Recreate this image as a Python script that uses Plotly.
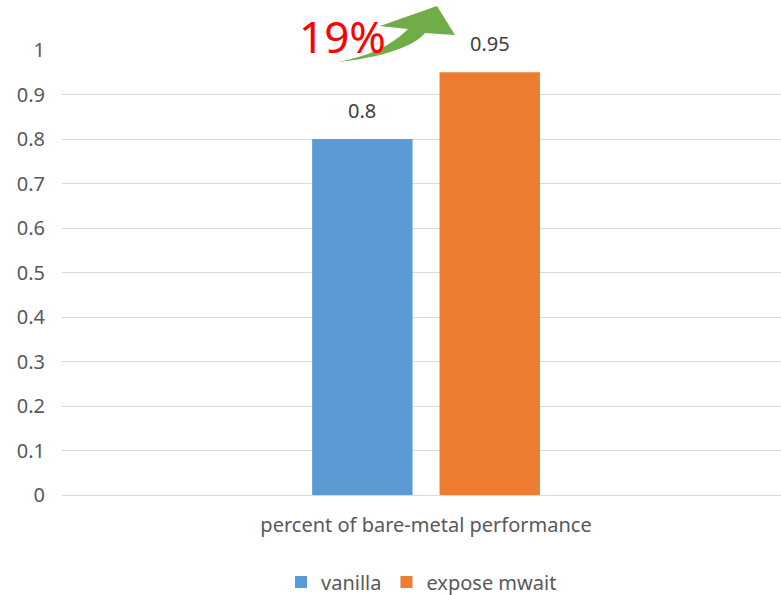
import plotly.graph_objects as go

# chart data
categories = ["percent of bare-metal performance"]
series_names = ["vanilla", "expose mwait"]
series_values = [[0.8], [0.95]]
series_colors = ["#5B9BD5", "#ED7D31"]
y_ticks = [0, 0.1, 0.2, 0.3, 0.4, 0.5, 0.6, 0.7, 0.8, 0.9, 1]
gain_label = "19%"

W, H = 781, 595
ML, MR, MT, MB = 62, 0, 50, 100
PW, PH = W - ML - MR, H - MT - MB

FONT = "Noto Sans"


def px_to_paper(px, py):
    return (px - ML) / PW, 1 - (py - MT) / PH


fig = go.Figure()
for name, vals, col in zip(series_names, series_values, series_colors):
    fig.add_trace(go.Bar(
        name=name, x=categories, y=vals, marker=dict(color=col, line=dict(width=0)),
        hoverinfo="skip",
    ))

# value labels above each bar
bargap, groupgap = 0.65, 0.212
x_range = [-0.5, 0.4875]
unit_px = PW / (x_range[1] - x_range[0])
slot_px = (1 - bargap) * unit_px / len(series_names)
annotations = []
for i, vals in enumerate(series_values):
    off = (i - (len(series_names) - 1) / 2) * slot_px
    for c, v in zip(categories, vals):
        annotations.append(dict(
            x=c, y=v, xref="x", yref="y", text=f"{v:g}", showarrow=False,
            xshift=off, yshift=29, yanchor="middle",
            font=dict(family=FONT, size=20, color="#404040"),
        ))

# increase label
gx, gy = px_to_paper(342, 36)
annotations.append(dict(
    x=gx, y=gy, xref="paper", yref="paper", text=gain_label, showarrow=False,
    xanchor="center", yanchor="middle",
    font=dict(family=FONT, size=44, color="#FF0000"),
))

# curved green arrow
pts = {
    "tail": (338, 62),
    "low1": (395, 56), "low2": (418, 42), "lowend": (425, 33),
    "rc": (455, 35), "tip": (437, 6), "lc": (380, 26), "notch": (408, 29),
    "up1": (392, 45), "up2": (370, 56),
}


def P(k):
    x, y = px_to_paper(*pts[k])
    return f"{x:.5f},{y:.5f}"


arrow_path = (
    f"M {P('tail')} C {P('low1')} {P('low2')} {P('lowend')} "
    f"L {P('rc')} L {P('tip')} L {P('lc')} L {P('notch')} "
    f"C {P('up1')} {P('up2')} {P('tail')} Z"
)

fig.update_layout(
    width=W, height=H,
    margin=dict(l=ML, r=MR, t=MT, b=MB, autoexpand=False),
    paper_bgcolor="white", plot_bgcolor="white",
    barmode="group", bargap=bargap, bargroupgap=groupgap,
    font=dict(family=FONT, color="#595959"),
    xaxis=dict(
        type="category", range=x_range, showgrid=False, showline=False,
        ticks="", ticklabelstandoff=16, fixedrange=True, automargin=False,
        tickfont=dict(family=FONT, size=20, color="#595959"),
    ),
    yaxis=dict(
        range=[0, 1], tickvals=y_ticks, ticktext=[f"{t:g}" for t in y_ticks],
        showgrid=True, gridcolor="#D9D9D9", gridwidth=1,
        zeroline=True, zerolinecolor="#D9D9D9", zerolinewidth=1,
        showline=False, ticks="", ticklabelstandoff=16, automargin=False,
        tickfont=dict(family=FONT, size=20, color="#595959"),
    ),
    legend=dict(
        orientation="h", x=0.5, xanchor="center", y=px_to_paper(0, 582)[1],
        yanchor="middle", font=dict(family=FONT, size=20, color="#595959"),
        itemwidth=30, traceorder="normal",
    ),
    annotations=annotations,
    shapes=[dict(type="path", xref="paper", yref="paper", path=arrow_path,
                 fillcolor="#70AD47", line=dict(width=0), layer="above")],
)

fig.write_html("out.html")
